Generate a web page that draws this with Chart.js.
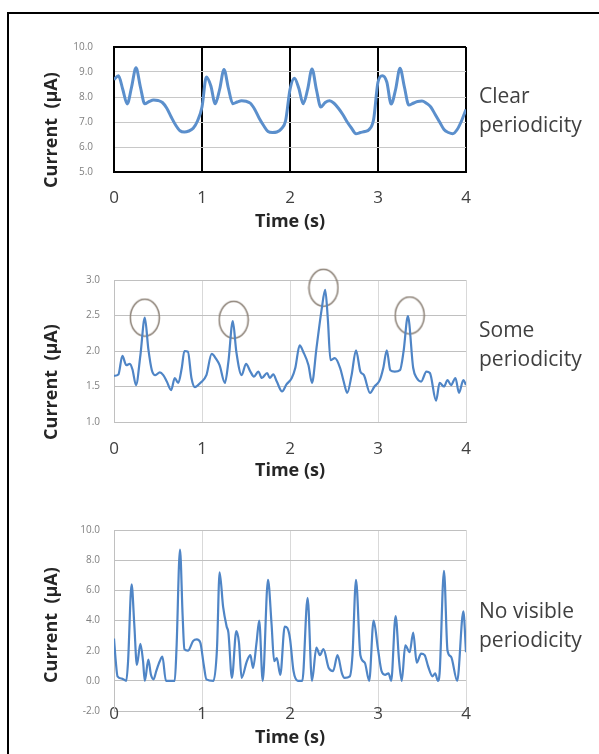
<!DOCTYPE html>
<html lang="en">
<head>
    <meta charset="UTF-8">
    <title>Current vs time</title>
    <script src="https://cdn.jsdelivr.net/npm/chart.js"></script>
    <style>
        body { margin: 0; background: #fff; font-family: "Open Sans", sans-serif; }
        #page { position: relative; width: 599px; height: 754px; overflow: hidden; }
        #frame { position: absolute; left: 7px; top: 12px; width: 700px; height: 800px;
                 border-left: 2px solid #000; border-top: 2px solid #000; }
        .panel { position: absolute; left: 0; width: 599px; }
        .ytitle { position: absolute; transform: translate(-50%, -50%) rotate(-90deg);
                  white-space: nowrap; font-weight: 700; font-size: 18px; color: #262626; }
        .note { position: absolute; left: 479px; font-size: 21px; line-height: 29px; color: #404040; }
    </style>
</head>
<body>
<div id="page">
    <div id="frame"></div>

    <div class="panel" style="top:20px;height:230px"><canvas id="chart1"></canvas></div>
    <div class="panel" style="top:260px;height:240px"><canvas id="chart2"></canvas></div>
    <div class="panel" style="top:510px;height:244px"><canvas id="chart3"></canvas></div>

    <div class="ytitle" style="left:50px;top:130px">Current&nbsp;&nbsp;(µA)</div>
    <div class="ytitle" style="left:50px;top:382px">Current&nbsp;&nbsp;(µA)</div>
    <div class="ytitle" style="left:50px;top:625px">Current&nbsp;&nbsp;(µA)</div>

    <div class="note" style="top:81px">Clear<br>periodicity</div>
    <div class="note" style="top:315px">Some<br>periodicity</div>
    <div class="note" style="top:596px">No visible<br>periodicity</div>
</div>

<script>
// panel 1 - clear periodicity
const times1 = [0, 0.05, 0.1, 0.15, 0.2, 0.25, 0.3, 0.35, 0.4, 0.45, 0.5, 0.55, 0.6, 0.65, 0.7, 0.75, 0.8, 0.85, 0.9, 0.95,
    1, 1.05, 1.1, 1.15, 1.2, 1.25, 1.3, 1.35, 1.4, 1.45, 1.5, 1.55, 1.6, 1.65, 1.7, 1.75, 1.8, 1.85, 1.9, 1.95,
    2, 2.05, 2.1, 2.15, 2.2, 2.25, 2.3, 2.35, 2.4, 2.45, 2.5, 2.55, 2.6, 2.65, 2.7, 2.75, 2.8, 2.85, 2.9, 2.95,
    3, 3.05, 3.1, 3.15, 3.2, 3.25, 3.3, 3.35, 3.4, 3.45, 3.5, 3.55, 3.6, 3.65, 3.7, 3.75, 3.8, 3.85, 3.9, 3.95, 4];
const current1 = [8.7, 8.85, 8.3, 7.72, 8.4, 9.17, 8.4, 7.73, 7.82, 7.88, 7.86, 7.78, 7.55, 7.2, 6.88, 6.65, 6.6, 6.64, 6.75, 7.05,
    7.6, 8.8, 8.45, 7.73, 8.3, 9.1, 8.35, 7.73, 7.8, 7.85, 7.83, 7.75, 7.5, 7.15, 6.86, 6.62, 6.58, 6.6, 6.72, 7.05,
    8.3, 8.75, 8.35, 7.73, 8.3, 9.12, 8.3, 7.6, 7.78, 7.85, 7.75, 7.55, 7.3, 7.0, 6.75, 6.53, 6.58, 6.62, 6.7, 7.1,
    8.6, 8.85, 8.6, 7.72, 8.3, 9.15, 8.4, 7.68, 7.75, 7.82, 7.84, 7.75, 7.6, 7.3, 7.0, 6.7, 6.58, 6.53, 6.7, 7.05, 7.5];

// panel 2 - some periodicity
const times2 = [0, 0.05, 0.095, 0.14, 0.18, 0.21, 0.25, 0.3, 0.35, 0.39, 0.43, 0.47, 0.52, 0.56, 0.6, 0.65, 0.69, 0.73, 0.77, 0.8,
    0.84, 0.88, 0.92, 0.98, 1.05, 1.11, 1.16, 1.2, 1.26, 1.3, 1.35, 1.39, 1.45, 1.5, 1.55, 1.59, 1.64, 1.68, 1.74, 1.77,
    1.81, 1.85, 1.91, 1.96, 2.02, 2.06, 2.11, 2.15, 2.21, 2.25, 2.3, 2.36, 2.4, 2.43, 2.46, 2.51, 2.57, 2.61, 2.65, 2.7,
    2.75, 2.8, 2.84, 2.91, 2.96, 3.02, 3.06, 3.1, 3.14, 3.19, 3.25, 3.29, 3.34, 3.4, 3.44, 3.49, 3.55, 3.59, 3.66, 3.7,
    3.75, 3.79, 3.83, 3.88, 3.92, 3.97, 4];
const current2 = [1.65, 1.67, 1.93, 1.8, 1.82, 1.74, 1.52, 1.94, 2.47, 2.03, 1.73, 1.66, 1.7, 1.66, 1.57, 1.45, 1.62, 1.55, 1.76, 2.0,
    1.99, 1.62, 1.49, 1.55, 1.66, 1.96, 1.89, 1.8, 1.55, 1.85, 2.42, 1.99, 1.66, 1.82, 1.71, 1.64, 1.71, 1.62, 1.69, 1.62,
    1.67, 1.57, 1.43, 1.53, 1.62, 1.76, 2.08, 1.99, 1.8, 1.55, 2.03, 2.59, 2.86, 2.45, 1.87, 1.9, 1.76, 1.57, 1.41, 1.66,
    2.01, 1.71, 1.66, 1.41, 1.5, 1.59, 1.76, 2.01, 1.73, 1.71, 1.73, 1.99, 2.49, 1.76, 1.62, 1.57, 1.71, 1.69, 1.3, 1.55,
    1.5, 1.59, 1.52, 1.62, 1.41, 1.59, 1.52];

// circled peaks in panel 2
const peakTimes = [0.35, 1.36, 2.38, 3.36];
const peakValues = [2.47, 2.44, 2.89, 2.5];

// panel 3 - no visible periodicity
const times3 = [0, 0.02, 0.04, 0.09, 0.14, 0.16, 0.2, 0.23, 0.26, 0.3, 0.33, 0.35, 0.39, 0.42, 0.45, 0.48, 0.52, 0.55, 0.59, 0.64,
    0.69, 0.71, 0.75, 0.78, 0.8, 0.84, 0.9, 0.94, 0.98, 1.02, 1.05, 1.13, 1.17, 1.2, 1.24, 1.28, 1.3, 1.34, 1.39, 1.42,
    1.45, 1.51, 1.55, 1.58, 1.62, 1.65, 1.69, 1.75, 1.79, 1.82, 1.85, 1.89, 1.94, 1.97, 2.0, 2.04, 2.09, 2.14, 2.2, 2.25,
    2.3, 2.34, 2.38, 2.44, 2.49, 2.54, 2.59, 2.62, 2.68, 2.71, 2.75, 2.8, 2.85, 2.9, 2.95, 3.0, 3.04, 3.08, 3.12, 3.15,
    3.2, 3.24, 3.27, 3.31, 3.36, 3.4, 3.44, 3.49, 3.53, 3.57, 3.62, 3.65, 3.68, 3.7, 3.75, 3.79, 3.83, 3.9, 3.97, 4];
const current3 = [2.8, 1.3, 0.3, 0.15, 0, 1.3, 6.4, 3.8, 1.05, 2.45, 1.3, 0, 1.4, 0.4, 0.1, 0.65, 1.3, 1.6, 0, 0,
    0, 2.1, 8.7, 4.3, 2.1, 2.0, 2.65, 2.75, 2.55, 1.05, 0.1, 0, 2.1, 7.2, 4.9, 3.6, 3.2, 0.2, 3.3, 2.55,
    0.2, 1.3, 1.7, 0.85, 2.55, 4.0, 0, 6.7, 3.8, 1.3, 1.5, 0.4, 3.6, 3.5, 2.8, 0.65, 0, 0, 5.5, 0,
    2.2, 1.7, 2.1, 0.85, 0.65, 1.7, 0.5, 0.2, 0.3, 1.7, 6.7, 1.7, 1.2, 0, 4.0, 2.1, 0.65, 0.4, 0.5, 0,
    4.3, 1.3, 0, 2.35, 1.9, 3.2, 1.2, 1.8, 1.7, 0.95, 0.3, 0.5, 0, 0.5, 7.3, 2.0, 1.6, 0, 4.6, 1.9];

const xTickLabels = ['0', '1', '2', '3', '4'];

const lineBlue = '#4f85c6';

function pairs(xs, ys) {
    return xs.map((x, i) => ({ x: x, y: ys[i] }));
}

// ellipse marker used to ring the peaks (taller than wide, like the hand-drawn ones)
function ellipseMarker() {
    const c = document.createElement('canvas');
    c.width = 32;
    c.height = 40;
    const g = c.getContext('2d');
    g.strokeStyle = '#8a7f74';
    g.lineWidth = 1.5;
    g.beginPath();
    g.ellipse(16, 20, 14.5, 18.5, 0, 0, Math.PI * 2);
    g.stroke();
    return c;
}

function makeChart(id, cfg) {
    const ctx = document.getElementById(id).getContext('2d');
    return new Chart(ctx, {
        type: 'line',
        data: { datasets: cfg.datasets },
        options: {
            responsive: true,
            maintainAspectRatio: false,
            animation: false,
            events: [],
            layout: { padding: { top: cfg.padTop, left: 74, right: 133, bottom: 0 } },
            plugins: { legend: { display: false }, tooltip: { enabled: false } },
            scales: {
                x: {
                    type: 'linear',
                    min: 0,
                    max: 4,
                    afterFit: (scale) => { scale.height = cfg.xHeight; },
                    afterBuildTicks: (scale) => { scale.ticks = xTickLabels.map(v => ({ value: Number(v) })); },
                    ticks: {
                        stepSize: 1,
                        padding: cfg.xTickPad,
                        mirror: cfg.xMirror || false,
                        maxRotation: 0,
                        color: '#404040',
                        font: { family: 'Open Sans', size: 17 },
                        callback: (v) => xTickLabels[v]
                    },
                    grid: {
                        drawTicks: false,
                        color: cfg.xGrid,
                        lineWidth: cfg.xGridWidth
                    },
                    border: { display: true, color: cfg.borderColor, width: cfg.borderWidth },
                    title: {
                        display: true,
                        text: 'Time (s)',
                        color: '#262626',
                        font: { family: 'Open Sans', size: 18, weight: '700' },
                        padding: { top: 0, bottom: cfg.xTitlePad }
                    }
                },
                y: {
                    min: cfg.yMin,
                    max: cfg.yMax,
                    afterFit: (scale) => { scale.width = 40; },
                    ticks: {
                        stepSize: cfg.yStep,
                        padding: cfg.yTickPad,
                        color: '#808080',
                        font: { family: 'Open Sans', size: 10 },
                        callback: (v) => Number(v).toFixed(1)
                    },
                    grid: {
                        drawTicks: false,
                        color: cfg.yGrid,
                        lineWidth: cfg.yGridWidth
                    },
                    border: { display: true, color: cfg.borderColor, width: cfg.borderWidth }
                }
            }
        }
    });
}

// panel 1: heavy black frame and black verticals at each second
makeChart('chart1', {
    padTop: 17, xHeight: 78, xTickPad: 16, xTitlePad: 17, yTickPad: 21,
    yMin: 5, yMax: 10, yStep: 1,
    xGrid: '#000', xGridWidth: 2,
    yGrid: (c) => (c.tick.value === 10 || c.tick.value === 5) ? '#000' : '#c8c8c8',
    yGridWidth: (c) => (c.tick.value === 10 || c.tick.value === 5) ? 2 : 1,
    borderColor: '#000', borderWidth: 2,
    datasets: [{
        data: pairs(times1, current1),
        borderColor: '#5b8fcc',
        borderWidth: 3,
        pointRadius: 0,
        cubicInterpolationMode: 'monotone',
        fill: false
    }]
});

makeChart('chart2', {
    padTop: 15, xHeight: 78, xTickPad: 17, xTitlePad: 18, yTickPad: 14,
    yMin: 1, yMax: 3, yStep: 0.5,
    xGrid: '#d9d9d9', xGridWidth: 1,
    yGrid: '#c0c0c0', yGridWidth: 1,
    borderColor: '#c0c0c0', borderWidth: 1,
    datasets: [{
        data: pairs(times2, current2),
        borderColor: lineBlue,
        borderWidth: 2.2,
        pointRadius: 0,
        cubicInterpolationMode: 'monotone',
        fill: false
    }, {
        data: pairs(peakTimes, peakValues),
        showLine: false,
        clip: false,
        pointStyle: ellipseMarker(),
        pointRadius: 16
    }]
});

// panel 3: tick labels sit on the -2.0 line; mirrored so they are not clipped to the axis box
makeChart('chart3', {
    padTop: 15, xHeight: 43, xTickPad: -13, xMirror: true, xTitlePad: 5, yTickPad: 14,
    yMin: -2, yMax: 10, yStep: 2,
    xGrid: '#d9d9d9', xGridWidth: 1,
    yGrid: '#c0c0c0', yGridWidth: 1,
    borderColor: '#c0c0c0', borderWidth: 1,
    datasets: [{
        data: pairs(times3, current3),
        borderColor: lineBlue,
        borderWidth: 2.2,
        pointRadius: 0,
        cubicInterpolationMode: 'monotone',
        fill: false
    }]
});
</script>
</body>
</html>
